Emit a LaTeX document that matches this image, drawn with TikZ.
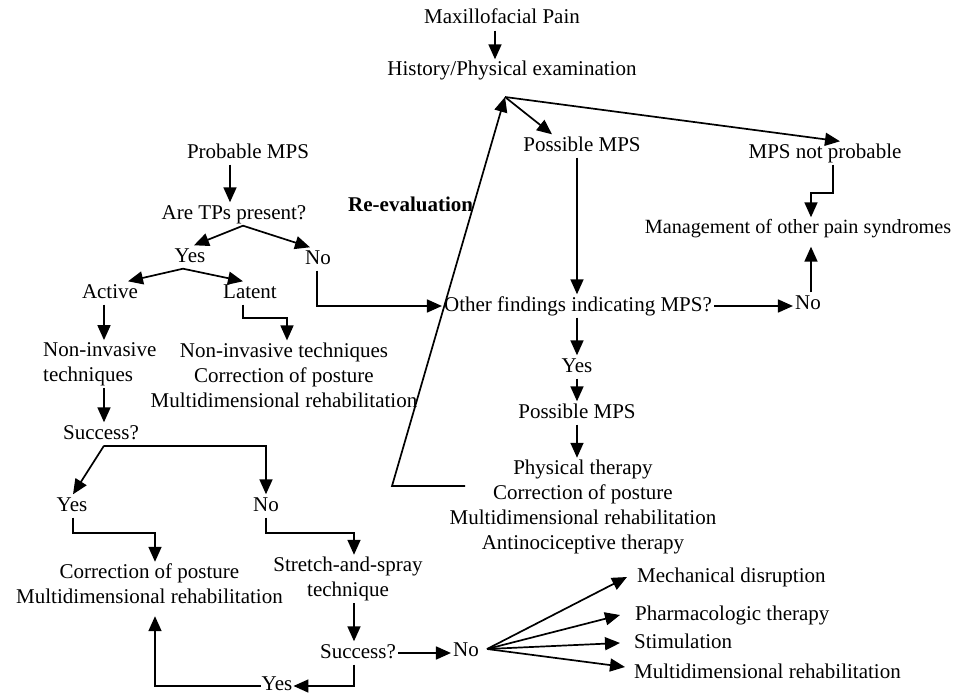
\documentclass[tikz,border=0pt]{standalone}
\usepackage{fontspec}
\setmainfont{Liberation Serif}
\usetikzlibrary{arrows.meta,calc}
\begin{document}
\begin{tikzpicture}[x=1pt,y=-1pt,
  lbl/.style={inner sep=2pt, font=\fontsize{21}{25}\selectfont, text height=14.5pt, text depth=4.5pt},
  blk/.style={inner sep=2pt, font=\fontsize{21}{25}\selectfont, align=center},
  arr/.style={line width=1.7pt, -{Triangle[length=15pt,width=13pt]}}]
\useasboundingbox (0,0) rectangle (954,693);
% nodes
\node[lbl] (maxi) at (502,19) {Maxillofacial Pain};
\node[lbl] (hist) at (512,71) {History/Physical examination};
\coordinate (J) at (505,97);
\node[lbl] (posA) at (582,146) {Possible MPS};
\node[lbl] (notp) at (825,153) {MPS not probable};
\node[lbl, inner sep=1pt, font=\fontsize{20.2}{25}\selectfont] (mgmt) at (798,228) {Management of other pain syndromes};
\node[lbl] (noR) at (808,304) {No};
\node[lbl] (other) at (578,306) {Other findings indicating MPS?};
\node[lbl] (yesM) at (577,367) {Yes};
\node[lbl] (posB) at (577,413) {Possible MPS};
\node[blk] (phys) at (583,507) {Physical therapy\\Correction of posture\\Multidimensional rehabilitation\\Antinociceptive therapy};
\node[lbl, anchor=west, font=\bfseries\fontsize{21}{25}\selectfont] (reev) at (346,206) {Re-evaluation};
\node[lbl] (prob) at (248,153) {Probable MPS};
\node[lbl] (tps) at (234,214) {Are TPs present?};
\node[lbl] (yes1) at (190,257) {Yes};
\node[lbl] (no1) at (318,259) {No};
\node[lbl] (active) at (110,293) {Active};
\node[lbl] (latent) at (250,293) {Latent};
\node[blk, align=left, anchor=west] (nia) at (41,364) {Non-invasive\\techniques};
\node[blk] (nil) at (284,375) {Non-invasive techniques\\Correction of posture\\Multidimensional rehabilitation};
\node[lbl] (succ1) at (101,434) {Success?};
\node[lbl] (yes2) at (72,506) {Yes};
\node[lbl] (no2) at (266,506) {No};
\node[blk] (corr) at (149.5,584) {Correction of posture\\Multidimensional rehabilitation};
\node[blk] (stretch) at (348,579) {Stretch-and-spray\\technique};
\node[lbl] (succ2) at (358,653) {Success?};
\node[lbl] (no3) at (466,651) {No};
\node[lbl, inner sep=1pt, text depth=0.5pt] (yes3) at (277,683) {Yes};
\node[lbl, anchor=west] (mech) at (635,577) {Mechanical disruption};
\node[lbl, anchor=west] (pharm) at (633,615) {Pharmacologic therapy};
\node[lbl, anchor=west] (stim) at (632,643) {Stimulation};
\node[lbl, anchor=west] (multi) at (632,673) {Multidimensional rehabilitation};
% connectors
\draw[arr] (maxi.south -| 495,0) -- (hist.north -| 495,0);
\coordinate (re1) at (465,486);
\coordinate (re2) at (392,486);
\draw[arr] (re1) -- (re2) -- (J);
\draw[arr] (J) -- (posA.north -| 552,0);
\draw[arr] (J) -- (notp.north -| 840,0);
\draw[arr] (notp.south -| 833,0) -- ++(0,28) -| (mgmt.north -| 811,0);
\draw[arr, shorten >=8pt] (noR.north -| 811,0) -- (mgmt.south -| 811,0);
\draw[arr] (other.east) -- (other.east -| noR.west);
\draw[arr] (posA.south -| 577,0) -- (other.north -| 577,0);
\draw[arr] (other.south -| 577,0) -- (yesM.north);
\draw[arr] (yesM.south) -- (posB.north);
\draw[arr] (posB.south) -- (phys.north -| 577,0);
\draw[arr] (no1.south -| 317,0) |- (other.west);
\draw[arr] (prob.south -| 230,0) -- (tps.north -| 230,0);
\draw[arr] (tps.south -| 243,0) -- (yes1.north -| 194,0);
\draw[arr] (tps.south -| 243,0) -- (no1.north -| 310,0);
\draw[arr] (yes1.south -| 183,0) -- (active.north -| 128,0);
\draw[arr] (yes1.south -| 183,0) -- (latent.north -| 243,0);
\draw[arr] (active.south -| 104,0) -- (nia.north -| 104,0);
\draw[arr] (latent.south -| 243,0) -- ++(0,13) -| (nil.north -| 287,0);
\draw[arr] (nia.south -| 104,0) -- (succ1.north -| 104,0);
\draw[arr] (succ1.south -| 104,0) -- (yes2.north -| 73,0);
\draw[arr] (succ1.south -| 104,0) -| (no2.north);
\draw[arr] (yes2.south -| 73,0) -- ++(0,15) -| (corr.north -| 155,0);
\draw[arr] (no2.south) -- ++(0,15) -| (stretch.north -| 354,0);
\draw[arr] (stretch.south -| 354,0) -- (succ2.north -| 354,0);
\draw[arr] (succ2.east) -- (succ2.east -| no3.west);
\draw[arr] (succ2.south -| 354,0) |- ([yshift=-3pt]yes3.east);
\draw[arr, shorten >=10pt] ([yshift=-3pt]yes3.west) -| (corr.south -| 155,0);
\coordinate (fan) at ([xshift=6pt,yshift=2pt]no3.east);
\draw[arr] (fan) -- ([xshift=-8pt]mech.west);
\draw[arr] (fan) -- ([xshift=-13pt]pharm.west);
\draw[arr] (fan) -- ([xshift=-12pt]stim.west);
\draw[arr] (fan) -- ([xshift=-7pt,yshift=6pt]multi.west);
\end{tikzpicture}
\end{document}
